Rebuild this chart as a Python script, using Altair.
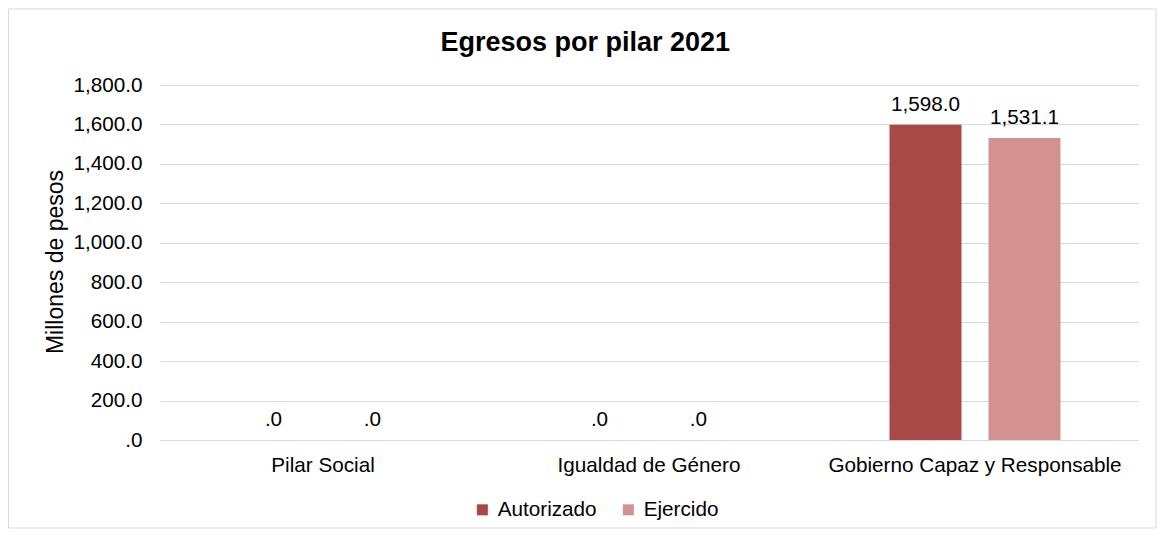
import altair as alt
import pandas as pd

pilares = ["Pilar Social", "Igualdad de Género", "Gobierno Capaz y Responsable"]
autorizado = [0.0, 0.0, 1598.0]
ejercido = [0.0, 0.0, 1531.1]
series = ["Autorizado", "Ejercido"]
colores = ["#A84946", "#D39291"]
y_ticks = [0, 200, 400, 600, 800, 1000, 1200, 1400, 1600, 1800]

rows = []
for p, a, e in zip(pilares, autorizado, ejercido):
    rows.append({"pilar": p, "serie": series[0], "valor": a})
    rows.append({"pilar": p, "serie": series[1], "valor": e})
df = pd.DataFrame(rows)

FONT = "Liberation Sans"
FS = 20.7
W, H = 978, 355

x_enc = alt.X("pilar:N", sort=pilares, title=None,
              scale=alt.Scale(paddingInner=0, paddingOuter=0),
              axis=alt.Axis(labelAngle=0, ticks=False, domain=False, labelPadding=15,
                            labelLimit=0, labelOverlap=False,
                            labelFontSize=FS, labelFont=FONT, labelColor="#000000"))
xo_enc = alt.XOffset("serie:N", sort=series,
                     scale=alt.Scale(paddingInner=0.273, paddingOuter=0.783))
y_enc = alt.Y("valor:Q", title="Millones de pesos",
              scale=alt.Scale(domain=[0, 1800], nice=False),
              axis=alt.Axis(values=y_ticks, ticks=False, domain=False, labelPadding=18,
                            labelOverlap=False, labelLimit=0,
                            labelExpr="datum.value == 0 ? '.0' : format(datum.value, ',.1f')",
                            labelFontSize=FS, labelFont=FONT, labelColor="#000000",
                            titleFontSize=23, titleFont=FONT, titleFontWeight="normal",
                            titleColor="#000000", titleAngle=-90, titleX=-98, titleY=H / 2 - 1,
                            titleBaseline="alphabetic", titleAlign="center",
                            gridColor="#D9D9D9", gridWidth=1))

base = alt.Chart(df)

frame = alt.Chart(alt.Data(values=[{"k": 1}])).mark_rect(
    fill="white", fillOpacity=0, stroke="#D9D9D9", strokeWidth=1
).encode(x=alt.value(-151.5), x2=alt.value(996), y=alt.value(-76), y2=alt.value(443))

bars = base.mark_bar().encode(
    x=x_enc, xOffset=xo_enc, y=y_enc,
    color=alt.Color("serie:N", sort=series,
                    scale=alt.Scale(domain=series, range=colores),
                    legend=alt.Legend(title=None, orient="none", direction="horizontal",
                                      legendX=312, legendY=414, symbolType="square",
                                      symbolSize=121, symbolStrokeWidth=0, labelOffset=5,
                                      columnPadding=21, padding=0,
                                      labelFontSize=FS, labelFont=FONT, labelColor="#000000")),
)

labels = base.transform_calculate(
    etiqueta="datum.valor == 0 ? '.0' : format(datum.valor, ',.1f')"
).mark_text(baseline="alphabetic", align="center", dy=-14, fontSize=FS, font=FONT,
            color="#000000").encode(
    x=x_enc, xOffset=xo_enc, y=y_enc, text="etiqueta:N")

chart = alt.layer(frame, bars, labels).properties(
    width=W, height=H,
    padding=0,
    background="white",
    title=alt.TitleParams("Egresos por pilar 2021", fontSize=27, font=FONT, fontWeight="bold",
                          color="#000000", anchor="middle", frame="bounds",
                          baseline="alphabetic", offset=-69.5, dx=3),
).configure_view(strokeOpacity=0, strokeWidth=0)

chart.save("out.html", embed_options={"renderer": "svg", "actions": False})
